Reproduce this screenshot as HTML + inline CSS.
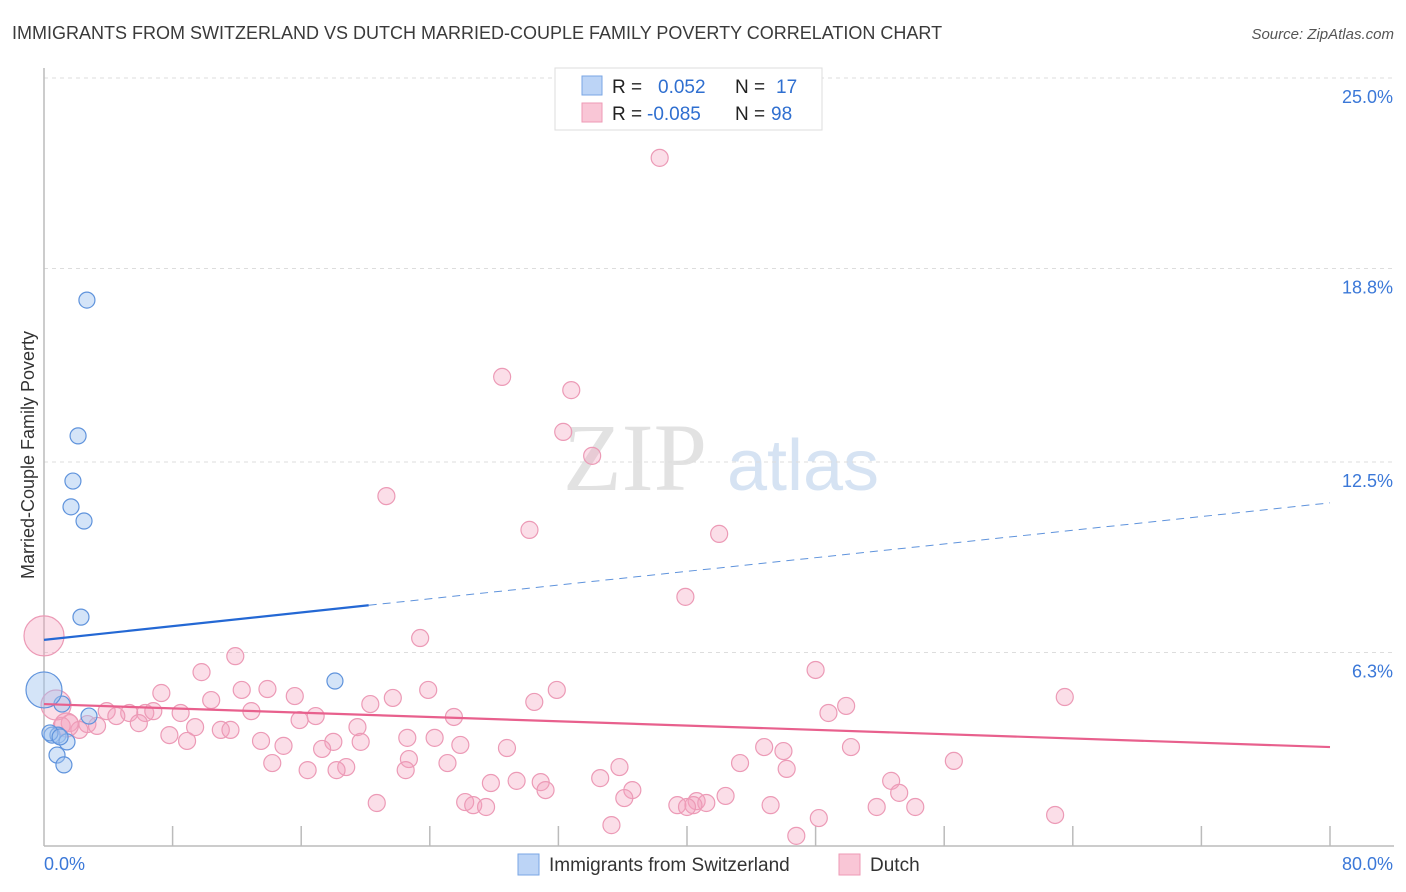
<!DOCTYPE html>
<html><head><meta charset="utf-8"><style>
body{margin:0;background:#fff;font-family:"Liberation Sans",sans-serif;}
#wrap{position:relative;width:1406px;height:892px;overflow:hidden;}
</style></head><body>
<div id="wrap">
<svg id="svg" width="1406" height="892" xmlns="http://www.w3.org/2000/svg">
<text x="12" y="39" font-size="18" fill="#3a3a3a">IMMIGRANTS FROM SWITZERLAND VS DUTCH MARRIED-COUPLE FAMILY POVERTY CORRELATION CHART</text>
<text x="1394" y="39" font-size="15" fill="#555" font-style="italic" text-anchor="end">Source: ZipAtlas.com</text>
<text x="635" y="490" font-size="96" fill="#e2e2e2" font-family="Liberation Serif,serif" text-anchor="middle">ZIP</text>
<text x="803" y="490" font-size="72" fill="#d6e3f3" text-anchor="middle">atlas</text>
<text transform="translate(34,455) rotate(-90)" font-size="18" fill="#333" text-anchor="middle">Married-Couple Family Poverty</text>
<g id="grid"></g><g id="marks"></g>
<g>
<rect x="555" y="68" width="267" height="62" fill="#fff" stroke="#ddd"/>
<rect x="582" y="76" width="20" height="19" fill="#bcd4f6" stroke="#7aa6e4"/>
<rect x="582" y="103" width="20" height="19" fill="#f9c6d6" stroke="#ee9ab5"/>
<text x="612" y="93" font-size="19" fill="#222">R = <tspan x="658" fill="#2f6fd0">0.052</tspan><tspan x="735" fill="#222">N = </tspan><tspan x="776" fill="#2f6fd0">17</tspan></text>
<text x="612" y="120" font-size="19" fill="#222">R = <tspan x="647" fill="#2f6fd0">-0.085</tspan><tspan x="735" fill="#222">N = </tspan><tspan x="771" fill="#2f6fd0">98</tspan></text>
</g>
<g>
<rect x="518" y="854" width="21" height="21" fill="#bcd4f6" stroke="#7aa6e4"/>
<text x="549" y="871" font-size="19" fill="#333">Immigrants from Switzerland</text>
<rect x="839" y="854" width="21" height="21" fill="#f9c6d6" stroke="#ee9ab5"/>
<text x="870" y="871" font-size="19" fill="#333">Dutch</text>
</g>
</svg>
</div>
<script>
const yTicks=[25.0,18.8,12.5,6.3];
const xTickLabels=["0.0%","80.0%"];
const blueX=[2.67,2.12,1.80,1.68,2.49,2.30,18.10,1.12,2.80,0,0.50,0.87,1.43,0.81,1.24,0.37,1.0];
const blueY=[17.77,13.35,11.88,11.04,10.58,7.45,5.37,4.62,4.23,5.08,3.61,3.61,3.39,2.96,2.64,3.68,3.55];
const blueR=[8,8,8,8,8,8,8,8,8,18,8,8,8,8,8,8,8];
const pinkX=[38.3,28.5,32.8,32.3,34.1,21.3,30.2,42.0,39.9,23.4,11.9,48.0,9.8,63.5,7.3,12.3,13.9,15.6,10.4,21.7,23.9,31.9,30.5,20.3,49.9,48.8,12.9,6.3,8.5,6.8,3.9,5.3,4.5,15.9,16.9,25.5,5.9,9.4,11.0,11.6,19.5,2.7,3.3,1.6,1.1,2.2,7.8,8.9,13.5,14.9,22.6,24.3,25.9,18.0,19.7,17.3,28.8,44.8,46.0,50.2,14.2,22.7,25.1,43.3,35.8,56.6,18.8,16.4,18.2,22.5,46.2,34.6,27.8,29.4,30.9,31.2,52.7,36.6,53.2,36.1,42.4,26.2,26.7,27.5,40.6,41.2,40.4,39.4,40.0,45.2,51.8,54.2,20.7,62.9,35.3,48.2,46.8,0,0.75,1.4];
const pinkY=[22.40,15.27,14.84,13.48,12.70,11.39,10.29,10.16,8.11,6.77,6.18,5.73,5.66,4.85,4.98,5.08,5.11,4.88,4.75,4.82,5.08,5.08,4.69,4.62,4.56,4.33,4.39,4.33,4.33,4.39,4.39,4.33,4.23,4.10,4.23,4.20,4.00,3.87,3.78,3.78,3.87,3.97,3.91,4.00,3.91,3.78,3.61,3.42,3.42,3.26,3.52,3.52,3.29,3.39,3.39,3.16,3.19,3.22,3.09,3.22,2.70,2.83,2.70,2.70,2.57,2.77,2.57,2.47,2.47,2.47,2.51,2.21,2.05,2.12,2.08,1.82,2.12,1.82,1.73,1.56,1.63,1.43,1.33,1.27,1.46,1.40,1.33,1.33,1.27,1.33,1.27,1.27,1.40,1.01,0.68,0.91,0.33,6.84,4.59,3.94];
const pinkR=pinkX.map((_,i)=>i===pinkX.length-3?20:i===pinkX.length-2?15:i===pinkX.length-1?12:8.5);
const blueTrend=[6.71,11.17], blueSolidEnd=20.2;
const pinkTrend=[4.62,3.22];
const NS="http://www.w3.org/2000/svg";
const X0=44,X1=1330,Y0=846,YPER=30.72;
const sx=v=>X0+(X1-X0)*v/80, sy=v=>Y0-v*YPER;
function mk(tag,attrs,parent){const e=document.createElementNS(NS,tag);for(const k in attrs)e.setAttribute(k,attrs[k]);parent.appendChild(e);return e;}
const grid=document.getElementById('grid'), marks=document.getElementById('marks');
yTicks.forEach(t=>{
 const l=mk('line',{x1:X0,x2:1394,y1:sy(t),y2:sy(t),stroke:'#ddd','stroke-dasharray':'4,4'},grid);
 
 
 const tx=mk('text',{x:1393,y:sy(t)+25,'font-size':18,fill:'#3b78d8','text-anchor':'end'},grid);
 tx.textContent=t.toFixed(1)+'%';
 
 
});
const ax=mk('line',{x1:X0,x2:X0,y1:68,y2:Y0,stroke:'#bbb','stroke-width':1.5},grid);


const bx=mk('line',{x1:X0,x2:1394,y1:Y0,y2:Y0,stroke:'#bbb','stroke-width':1.5},grid);


for(let i=1;i<=10;i++){
 const t=mk('line',{x1:sx(i*8),x2:sx(i*8),y1:826,y2:Y0,stroke:'#bbb','stroke-width':1.5},grid);
 
 
}
xTickLabels.forEach((s,i)=>{
 const t=mk('text',{x:i?1393:44,y:870,'font-size':18,fill:'#3b78d8','text-anchor':i?'end':'start'},grid);
 t.textContent=s;
 
 
});
pinkX.forEach((x,i)=>{
 const c=mk('circle',{cx:sx(x),cy:sy(pinkY[i]),r:pinkR[i],fill:'rgba(244,160,188,0.35)',stroke:'#ec9ab6','stroke-width':1.2},marks);
 
 
});
blueX.forEach((x,i)=>{
 const c=mk('circle',{cx:sx(x),cy:sy(blueY[i]),r:blueR[i],fill:'rgba(160,196,240,0.45)',stroke:'#5f93dc','stroke-width':1.2},marks);
 
 
});
const bt=v=>blueTrend[0]+(blueTrend[1]-blueTrend[0])*v/80;
const l1=mk('line',{x1:sx(0),y1:sy(bt(0)),x2:sx(blueSolidEnd),y2:sy(bt(blueSolidEnd)),stroke:'#2468d4','stroke-width':2.2},marks);


const l2=mk('line',{x1:sx(blueSolidEnd),y1:sy(bt(blueSolidEnd)),x2:sx(80),y2:sy(bt(80)),stroke:'#5f93dc','stroke-width':1,'stroke-dasharray':'8,6'},marks);


const l3=mk('line',{x1:sx(0),y1:sy(pinkTrend[0]),x2:sx(80),y2:sy(pinkTrend[1]),stroke:'#e8608d','stroke-width':2.2},marks);


</script>
</body></html>
